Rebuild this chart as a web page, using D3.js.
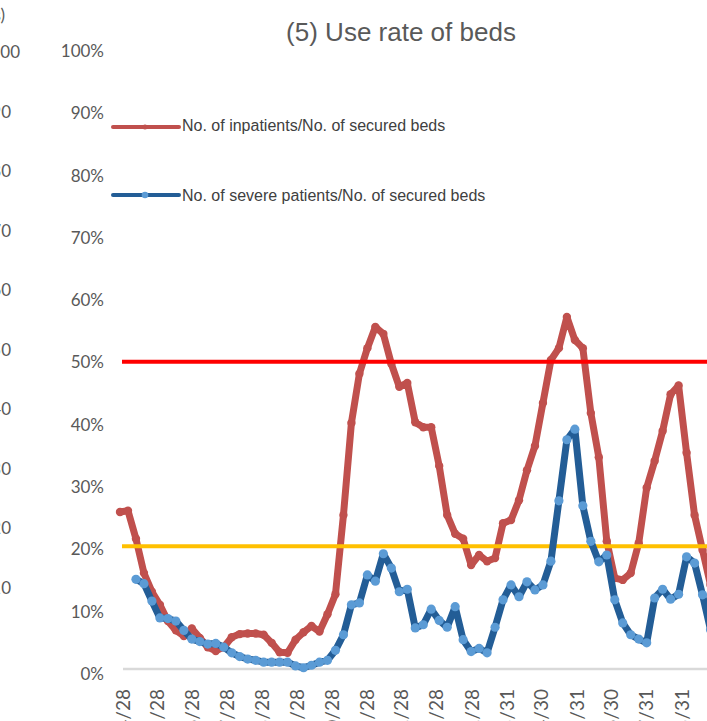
<!DOCTYPE html>
<html><head><meta charset="utf-8">
<script src="https://cdn.jsdelivr.net/npm/d3@7"></script>
<style>html,body{margin:0;padding:0;background:#fff}svg{display:block}</style>
</head><body>
<svg id="chart" width="707" height="721"></svg>
<script>
// ---------- data ----------
const titleText = "(5) Use rate of beds";
const startDate = "2020-04-26";          // first weekly observation
const weekStepDays = 7;
const seriesNames = ["No. of inpatients/No. of secured beds", "No. of severe patients/No. of secured beds"];
// % values, weekly
const inpatientRate = [25.2,25.4,20.9,15.4,12.4,10.3,7.7,6.2,5.3,6.5,
  5.0,3.5,2.9,3.5,5.1,5.6,5.7,5.7,5.5,4.2,
  2.7,2.6,4.7,5.9,6.9,6.0,8.8,12.0,24.7,39.5,
  47.4,51.5,54.9,53.8,49.0,45.3,45.9,39.6,38.8,38.8,
  32.6,24.7,21.7,20.9,16.7,18.3,17.3,17.8,23.4,23.9,
  27.1,31.9,35.8,42.7,49.6,51.5,56.5,52.8,51.5,41.1,
  34.0,20.5,14.6,14.3,15.4,20.2,29.1,33.4,38.2,44.1,
  45.5,34.7,24.7,19.1,13.5,10.0];
const severeRate = [null,null,14.4,13.7,10.9,8.2,8.1,7.7,6.2,4.8,
  4.4,4.0,4.1,3.5,2.6,2.0,1.6,1.4,1.1,1.1,
  1.1,1.1,0.5,0.2,0.6,1.1,1.4,3.0,5.5,10.3,
  10.6,15.1,14.1,18.5,16.2,12.4,12.8,6.6,7.1,9.6,
  7.8,6.7,10.0,4.7,2.8,3.3,2.6,6.7,11.1,13.5,
  11.6,14.0,12.7,13.5,17.3,27.0,36.8,38.5,26.2,20.5,
  17.2,18.3,11.1,7.4,5.5,4.8,4.2,11.4,12.8,11.2,
  12.0,18.0,17.0,11.9,6.3,5.0];
const thresholdValues = [49.3, 19.7];
const thresholdColors = ["#FF0000", "#FFC000"];
const yTickValues = [0,10,20,30,40,50,60,70,80,90,100];
const xTickLabels = ["2020/4/28","2020/5/28","2020/6/28","2020/7/28","2020/8/28","2020/9/28",
  "2020/10/28","2020/11/28","2020/12/28","2021/1/28","2021/2/28","2021/3/31","2021/4/30",
  "2021/5/31","2021/6/30","2021/7/31","2021/8/31"];
// fragment of the neighbouring chart's axis (cut by the crop)
const leftUnitLabel = "(persons)";
const leftTickValues = [100,90,80,70,60,50,40,30,20,10];

// ---------- drawing ----------
const svg = d3.select("#chart");
const W = 707, H = 721;
svg.append("rect").attr("width", W).attr("height", H).attr("fill", "#fff");

const parseISO = d3.utcParse("%Y-%m-%d");
const parseLbl = d3.utcParse("%Y/%m/%d");
const t0 = parseISO(startDate);
const dates = inpatientRate.map((_, i) => d3.utcDay.offset(t0, i * weekStepDays));

const x = d3.scaleTime().domain([dates[0], dates[dates.length - 1]]).range([120, 718.5]);
const y = d3.scaleLinear().domain([0, 100]).range([669, 46]);
const yLeft = d3.scaleLinear().domain([10, 100]).range([588, 52]);

const labelFont = "Lato, 'Open Sans', sans-serif";
const arial = "'Liberation Sans', Arial, Helvetica, sans-serif";

// left fragment
svg.append("text").attr("x", 5).attr("y", 21).attr("text-anchor", "end")
  .attr("font-family", labelFont).attr("font-size", 17).attr("fill", "#595959").text(leftUnitLabel);
svg.append("g").selectAll("text").data(leftTickValues).join("text")
  .attr("x", d => d === 100 ? 20 : 11).attr("y", d => yLeft(d)).attr("dy", "0.35em")
  .attr("text-anchor", "end").attr("font-family", labelFont).attr("font-size", 17)
  .attr("fill", "#595959").text(d => d);

// title
svg.append("text").attr("x", 401).attr("y", 41).attr("text-anchor", "middle")
  .attr("font-family", arial).attr("font-size", 26).attr("fill", "#595959").text(titleText);

// y labels
const yAxis = d3.axisLeft(y).tickValues(yTickValues).tickSize(0).tickPadding(0).tickFormat(d => d + "%");
const gy = svg.append("g").attr("transform", "translate(104,5)").call(yAxis);
gy.select(".domain").remove();
gy.selectAll("text").attr("font-family", labelFont).attr("font-size", 17).attr("fill", "#595959");

// x axis line
svg.append("line").attr("x1", x.range()[0] + 3).attr("x2", x.range()[1]).attr("y1", y(0)).attr("y2", y(0))
  .attr("stroke", "#D9D9D9").attr("stroke-width", 2.5);

// x tick labels (rotated, cut by the crop)
svg.append("g").selectAll("text").data(xTickLabels).join("text")
  .attr("transform", d => `translate(${x(parseLbl(d)) + 1},689) rotate(-90)`)
  .attr("dy", "0.35em").attr("text-anchor", "end")
  .attr("font-family", labelFont).attr("font-size", 19).attr("fill", "#595959").text(d => d);

// red series
const redCol = "#C0504D", blueLine = "#235D96", blueMark = "#5B9BD5";
const line = d3.line().defined(d => d.v != null).x(d => x(d.t)).y(d => y(d.v));
const redData = inpatientRate.map((v, i) => ({t: dates[i], v}));
const blueData = severeRate.map((v, i) => ({t: dates[i], v}));

svg.append("path").datum(redData).attr("d", line).attr("fill", "none")
  .attr("stroke", redCol).attr("stroke-width", 7).attr("stroke-linejoin", "round").attr("stroke-linecap", "round");
svg.append("g").selectAll("circle").data(redData.filter(d => d.v != null)).join("circle")
  .attr("cx", d => x(d.t)).attr("cy", d => y(d.v)).attr("r", 4.2).attr("fill", redCol);

// threshold lines
svg.append("g").selectAll("line").data(thresholdValues).join("line")
  .attr("x1", x.range()[0] + 2).attr("x2", W + 10)
  .attr("y1", d => y(d)).attr("y2", d => y(d))
  .attr("stroke", (d, i) => thresholdColors[i]).attr("stroke-width", 4);

// blue series
svg.append("path").datum(blueData).attr("d", line).attr("fill", "none")
  .attr("stroke", blueLine).attr("stroke-width", 7).attr("stroke-linejoin", "round").attr("stroke-linecap", "round");
svg.append("g").selectAll("circle").data(blueData.filter(d => d.v != null)).join("circle")
  .attr("cx", d => x(d.t)).attr("cy", d => y(d.v)).attr("r", 4.6).attr("fill", blueMark);

// legend
const legend = [
  {name: seriesNames[0], line: redCol, mark: redCol, ly: 127, ty: 131},
  {name: seriesNames[1], line: blueLine, mark: blueMark, ly: 195, ty: 201}
];
const lg = svg.append("g").selectAll("g").data(legend).join("g");
lg.append("line").attr("x1", 113).attr("x2", 179).attr("y1", d => d.ly).attr("y2", d => d.ly)
  .attr("stroke", d => d.line).attr("stroke-width", 4).attr("stroke-linecap", "round");
lg.append("circle").attr("cx", 145).attr("cy", d => d.ly).attr("r", (d, i) => i ? 3.3 : 2.5).attr("fill", d => d.mark);
lg.append("text").attr("x", 182).attr("y", d => d.ty).attr("font-family", arial).attr("font-size", 16)
  .attr("fill", "#404040").text(d => d.name);
</script>
</body></html>
